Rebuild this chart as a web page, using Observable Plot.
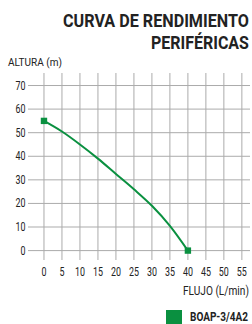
<!DOCTYPE html>
<html><head><meta charset="utf-8">
<script src="https://cdn.jsdelivr.net/npm/d3@7"></script>
<script src="https://cdn.jsdelivr.net/npm/@observablehq/plot@0.6"></script>
<style>
body{margin:0;background:#fff;}
#wrap{position:relative;width:252px;height:324px;overflow:hidden;}
#chart{position:absolute;left:0;top:0;}
#overlay{position:absolute;left:0;top:0;pointer-events:none;}
</style>
</head><body>
<div id="wrap">
  <div id="chart"></div>
  <svg id="overlay" width="252" height="324"></svg>
</div>
<script>
const titleLines = ["CURVA DE RENDIMIENTO", "PERIFÉRICAS"];
const yAxisLabel = "ALTURA (m)";
const xAxisLabel = "FLUJO (L/min)";
const seriesName = "BOAP-3/4A2";
const seriesColor = "#0a9040";
const flujo = [0, 5, 10, 15, 20, 25, 30, 35, 40];
const altura = [55, 50.5, 45, 39, 32.5, 26, 19, 10.5, 0];
const xTicks = [0, 5, 10, 15, 20, 25, 30, 35, 40, 45, 50, 55];
const yTicks = [0, 10, 20, 30, 40, 50, 60, 70];

const FONT = 'Roboto, "DejaVu Sans Condensed", sans-serif';
const data = flujo.map((f, i) => ({flujo: f, altura: altura[i]}));
const ends = [data[0], data[data.length - 1]];

const chart = Plot.plot({
  width: 252, height: 324,
  marginTop: 73, marginBottom: 64, marginLeft: 28, marginRight: 2,
  x: {domain: [-4.3, 57.4]},
  y: {domain: [-4.2, 75.1]},
  style: {fontFamily: FONT, fontSize: "12.5px", color: "#222", background: "transparent"},
  marks: [
    Plot.ruleX(xTicks, {stroke: "#ababab", strokeWidth: 1}),
    Plot.ruleY(yTicks, {stroke: "#ababab", strokeWidth: 1}),
    Plot.axisY({ticks: yTicks, tickSize: 0, tickPadding: 3, label: null}),
    Plot.axisX({ticks: xTicks, tickSize: 0, tickPadding: 7, label: null}),
    Plot.line(data, {x: "flujo", y: "altura", stroke: seriesColor, strokeWidth: 2, curve: "monotone-x"}),
    Plot.dot(ends, {x: "flujo", y: "altura", symbol: "square", fill: seriesColor, r: 3.6})
  ]
});
document.getElementById("chart").appendChild(chart);

// condense tick labels to the narrow look of the reference
d3.select(chart).selectAll('g[aria-label$="tick label"] text').each(function() {
  const n = this.textContent.length;
  this.setAttribute("textLength", n * 5);
  this.setAttribute("lengthAdjust", "spacingAndGlyphs");
});

// titles, axis labels and legend (horizontally condensed with a scale transform)
const ov = d3.select("#overlay").style("font-family", FONT);
function label(txt, x0, baseline, size, weight, width) {
  const t = ov.append("text").text(txt)
    .attr("x", 0).attr("y", 0)
    .attr("font-size", size).attr("font-weight", weight)
    .attr("fill", "#222");
  const w = t.node().getComputedTextLength();
  t.attr("transform", `translate(${x0},${baseline}) scale(${width / w},1)`);
}
label(titleLines[0], 63, 27, 18.5, "bold", 186);
label(titleLines[1], 151, 48.5, 18.5, "bold", 98);
label(yAxisLabel, 8, 66, 11.5, "normal", 54);
label(xAxisLabel, 183, 295, 12, "normal", 66);
ov.append("rect").attr("x", 166).attr("y", 310).attr("width", 16).attr("height", 14).attr("fill", seriesColor);
label(seriesName, 190, 320.5, 12.7, "bold", 58);
</script>
</body></html>
